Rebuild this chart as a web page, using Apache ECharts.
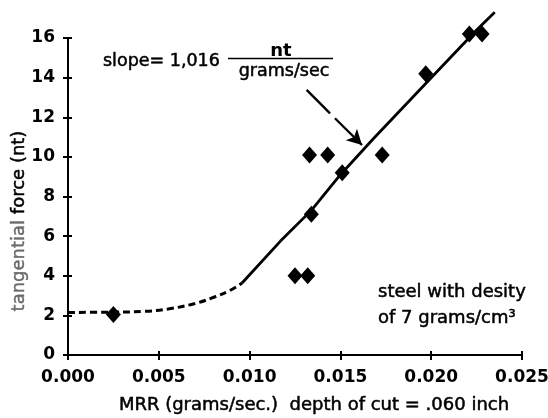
<!DOCTYPE html>
<html>
<head>
<meta charset="utf-8">
<script src="https://cdn.jsdelivr.net/npm/echarts@6/dist/echarts.min.js"></script>
<style>
  html, body { margin: 0; padding: 0; background: #fff; }
  #chart { width: 548px; height: 418px; }
</style>
</head>
<body>
<div id="chart"></div>
<script>
// Measured cutting force against material removal rate (steel, depth of cut .060 inch)
const mrr   = [0.0025, 0.0125, 0.0132, 0.0134, 0.0133, 0.0143, 0.0151, 0.0173, 0.0197, 0.0221, 0.0228];
const force = [2.05,   4.0,    4.0,    7.1,    10.1,   10.1,   9.2,    10.1,   14.2,   16.2,   16.2];

// Hand-drawn trend: dashed transition at low MRR, then the linear fit (slope 1,016 nt per g/s)
const lowFitX  = [0,    0.002, 0.0042, 0.0055, 0.007, 0.0081, 0.0089, 0.0096];
const lowFitY  = [2.15, 2.16,  2.2,    2.32,   2.6,   2.94,   3.25,   3.65];
const highFitX = [0.0096, 0.0099, 0.0117, 0.0134, 0.015, 0.0168, 0.0197, 0.0225, 0.0235];
const highFitY = [3.65,   3.95,   5.75,   7.3,    9.1,   10.9,   13.7,   16.4,   17.3];

// Arrow from the slope note to the fitted line (drawn in two strokes)
const arrowTail  = [[0.01314, 13.38], [0.01443, 12.2]];
const arrowHead  = [[0.0147, 11.95], [0.01619, 10.6]];

// Axis ranges and steps
const xRange = [0, 0.025], xStep = 0.005;
const yRange = [0, 16],    yStep = 2;

const FONT = 'DejaVu Sans';
const INK = '#000';
const SOFT = '#6a6a6a';

const pairs = (xs, ys) => xs.map((x, i) => [x, ys[i]]);

const chart = echarts.init(document.getElementById('chart'), null, { renderer: 'canvas' });

const mainX = {
  type: 'value', min: xRange[0], max: xRange[1], interval: xStep, position: 'bottom',
  axisLine: { show: true, onZero: false, lineStyle: { color: INK, width: 2 } },
  axisTick: { show: true, length: 5, lineStyle: { color: INK, width: 2 } },
  splitLine: { show: false },
  axisLabel: {
    margin: 14, color: INK, fontFamily: FONT, fontSize: 17, fontWeight: 'bold',
    formatter: v => v.toFixed(3)
  },
  name: 'MRR (grams/sec.)  depth of cut = .060 inch',
  nameLocation: 'middle', nameGap: 41, nameMoveOverlap: false,
  nameTextStyle: {
    color: INK, fontFamily: FONT, fontSize: 18, padding: [0, 0, 0, 38],
    textBorderColor: INK, textBorderWidth: 0.5
  }
};
// companion axis that only draws the inner half of each tick, so ticks cross the axis line
const innerX = {
  type: 'value', min: xRange[0], max: xRange[1], interval: xStep, position: 'bottom',
  axisLine: { show: false, onZero: false },
  axisTick: { show: true, inside: true, length: 4, lineStyle: { color: INK, width: 2 } },
  axisLabel: { show: false }, splitLine: { show: false }
};
const mainY = {
  type: 'value', min: yRange[0], max: yRange[1], interval: yStep, position: 'left',
  axisLine: { show: true, onZero: false, lineStyle: { color: INK, width: 2 } },
  axisTick: { show: true, length: 5, lineStyle: { color: INK, width: 2 } },
  splitLine: { show: false },
  axisLabel: { margin: 13, color: INK, fontFamily: FONT, fontSize: 17, fontWeight: 'bold' },
  name: '{soft|tangential} {ink|force (nt)}',
  nameLocation: 'middle', nameGap: 40, nameMoveOverlap: false,
  nameTextStyle: {
    fontFamily: FONT, fontSize: 18, padding: [0, 49, 0, 0],
    rich: {
      soft: { color: SOFT, fontFamily: FONT, fontSize: 18, textBorderColor: SOFT, textBorderWidth: 0.4 },
      ink:  { color: INK, fontFamily: FONT, fontSize: 18, textBorderColor: INK, textBorderWidth: 0.5 }
    }
  }
};
const innerY = {
  type: 'value', min: yRange[0], max: yRange[1], interval: yStep, position: 'left',
  axisLine: { show: false, onZero: false },
  axisTick: { show: true, inside: true, length: 4, lineStyle: { color: INK, width: 2 } },
  axisLabel: { show: false }, splitLine: { show: false }
};

const textStyle = (size, weight) => ({
  fill: INK, font: (weight || 'normal') + ' ' + size + 'px "' + FONT + '"',
  stroke: weight === 'bold' ? null : INK, lineWidth: weight === 'bold' ? 0 : 0.5
});

chart.setOption({
  animation: false,
  backgroundColor: '#fff',
  grid: { left: 68, right: 26, top: 38, bottom: 63, containLabel: false, outerBoundsMode: 'none' },
  xAxis: [mainX, innerX],
  yAxis: [mainY, innerY],
  series: [
    {
      name: 'transition', type: 'line', data: pairs(lowFitX, lowFitY),
      smooth: 0.4, symbol: 'none', silent: true, z: 2,
      lineStyle: { color: INK, width: 3, type: [7, 4] }
    },
    {
      name: 'linear fit', type: 'line', data: pairs(highFitX, highFitY),
      smooth: false, symbol: 'none', silent: true, clip: false, z: 2,
      lineStyle: { color: INK, width: 2.8 }
    },
    {
      name: 'measured', type: 'scatter', data: pairs(mrr, force),
      symbol: 'diamond', symbolSize: [15, 17], clip: false, z: 3,
      itemStyle: { color: INK, opacity: 1 },
      markLine: {
        silent: true, animation: false,
        label: { show: false },
        lineStyle: { color: INK, width: 2.4, type: 'solid', opacity: 1 },
        symbolSize: [12, 15],
        data: [
          [{ coord: arrowTail[0], symbol: 'none' }, { coord: arrowTail[1], symbol: 'none' }],
          [{ coord: arrowHead[0], symbol: 'none' }, { coord: arrowHead[1], symbol: 'arrow' }]
        ]
      }
    }
  ],
  graphic: [
    { type: 'text', x: 103, y: 61.5,
      style: Object.assign(textStyle(17.5), { text: 'slope= 1,016', textVerticalAlign: 'middle' }) },
    { type: 'line', shape: { x1: 228, y1: 58.5, x2: 333, y2: 58.5 },
      style: { stroke: INK, lineWidth: 1.5 } },
    { type: 'text', x: 281, y: 51,
      style: Object.assign(textStyle(18, 'bold'), { text: 'nt', textAlign: 'center', textVerticalAlign: 'middle' }) },
    { type: 'text', x: 284, y: 71,
      style: Object.assign(textStyle(17.5), { text: 'grams/sec', textAlign: 'center', textVerticalAlign: 'middle' }) },
    { type: 'text', x: 378, y: 292.5,
      style: Object.assign(textStyle(18), { text: 'steel with desity', textVerticalAlign: 'middle' }) },
    { type: 'text', x: 378, y: 318.5,
      style: Object.assign(textStyle(18), { text: 'of 7 grams/cm\u00B3', textVerticalAlign: 'middle' }) }
  ]
});
</script>
</body>
</html>
